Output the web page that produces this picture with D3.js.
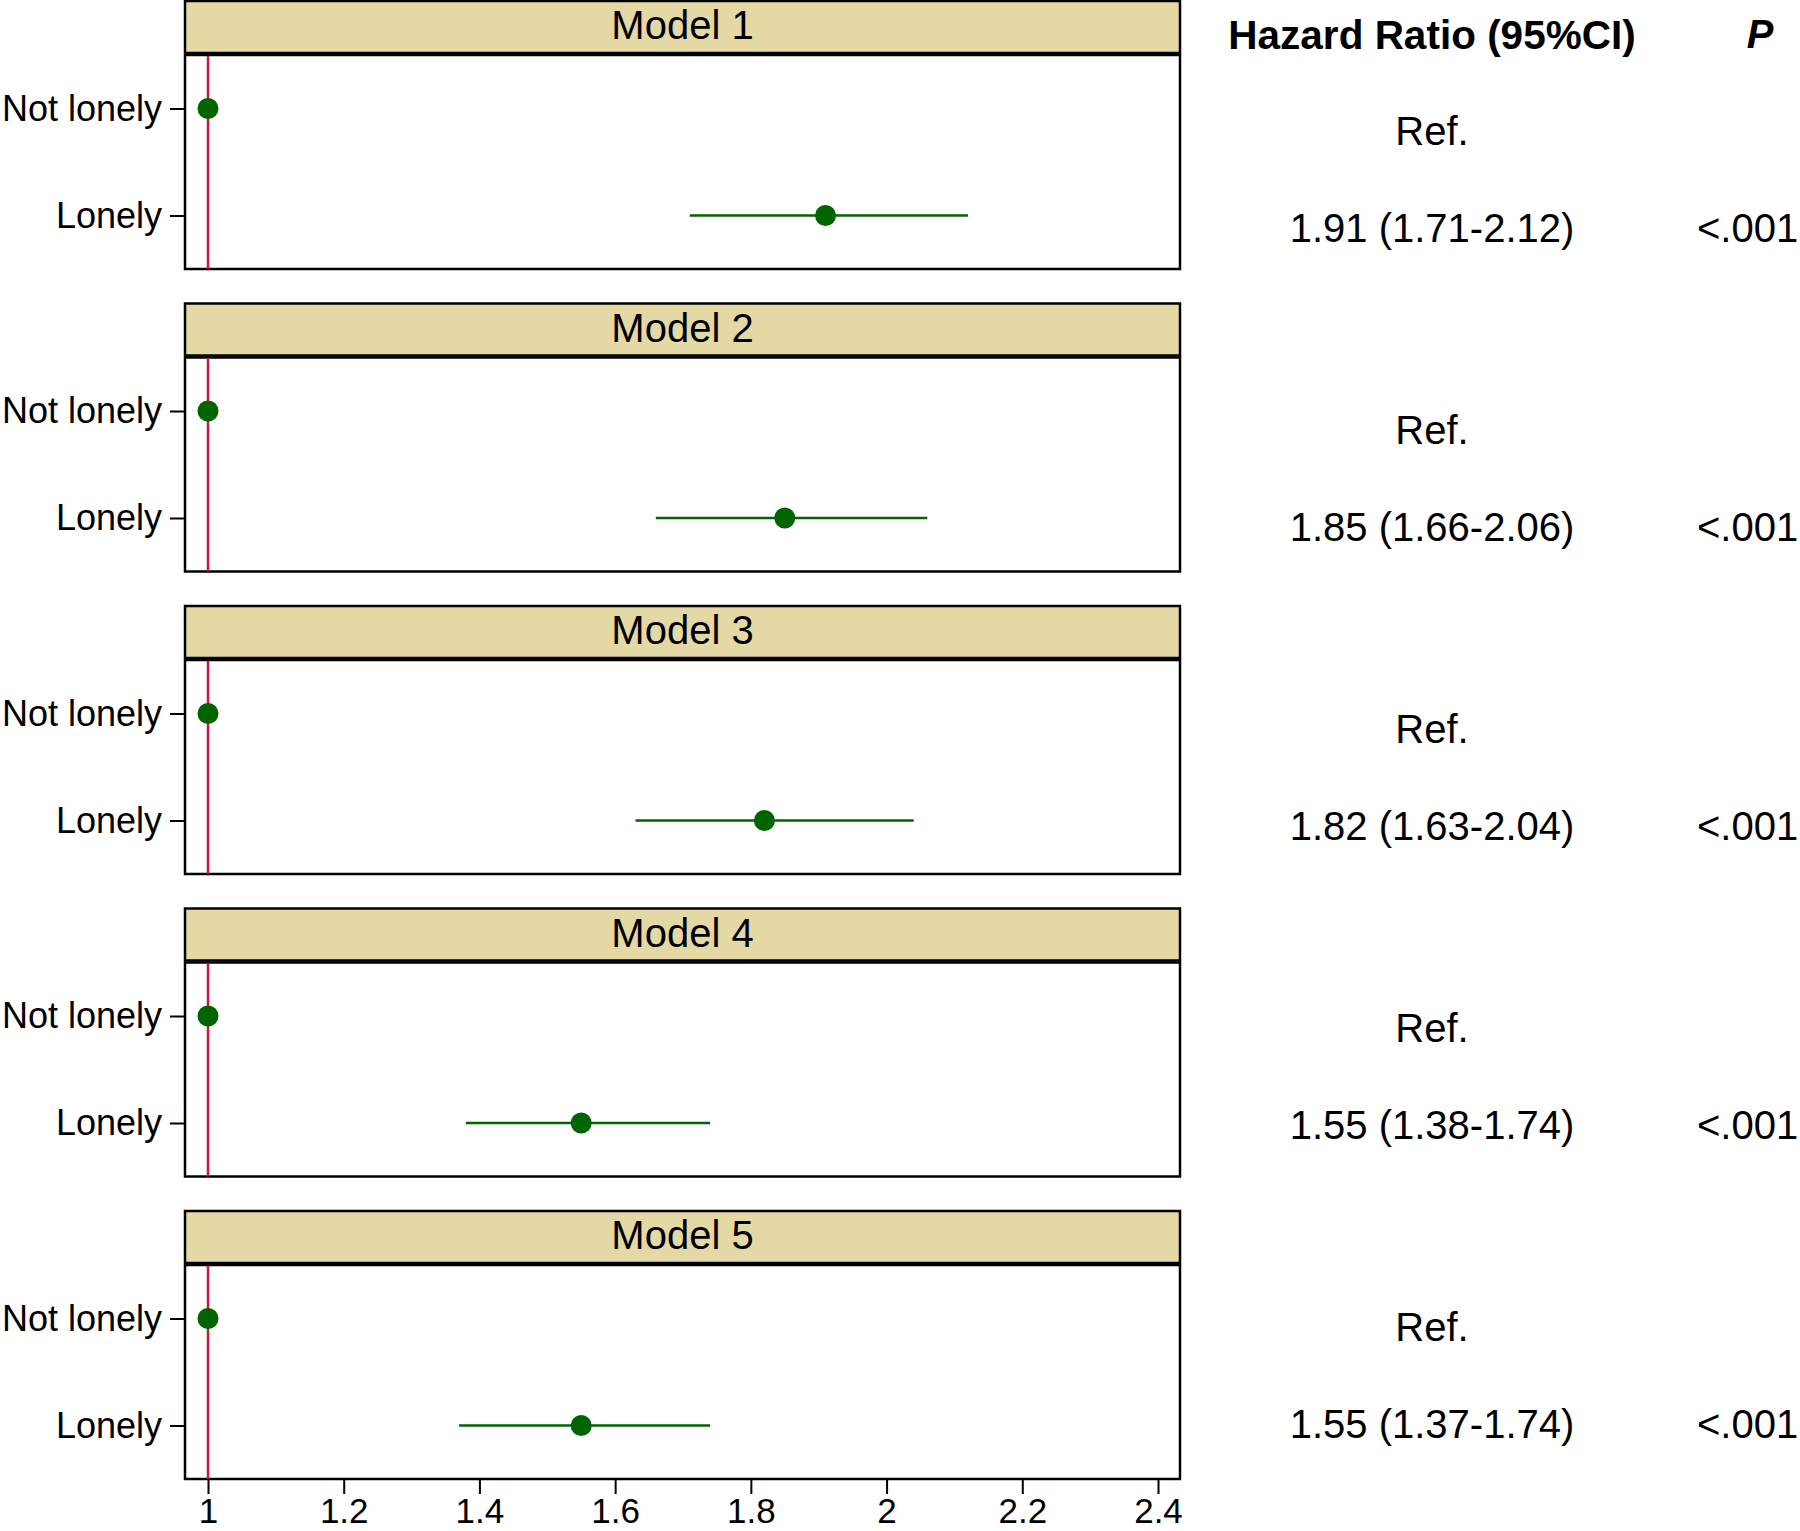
<!DOCTYPE html>
<html>
<head>
<meta charset="utf-8">
<script src="https://cdn.jsdelivr.net/npm/d3@7"></script>
<style>
  body { margin: 0; background: #fff; }
  svg { display: block; font-family: "Liberation Sans", Arial, Helvetica, sans-serif; }
  .axis path.domain { display: none; }
  .axis line { stroke: #000; stroke-width: 2; }
  .axis text { fill: #000; }
</style>
</head>
<body>
<svg width="1800" height="1531"></svg>
<script>
// data
var models = ["Model 1", "Model 2", "Model 3", "Model 4", "Model 5"];
var categories = ["Not lonely", "Lonely"];
var refValue = 1;
var hazard = [1.91, 1.85, 1.82, 1.55, 1.55];
var lower = [1.71, 1.66, 1.63, 1.38, 1.37];
var upper = [2.12, 2.06, 2.04, 1.74, 1.74];
var hrText = ["1.91 (1.71-2.12)", "1.85 (1.66-2.06)", "1.82 (1.63-2.04)", "1.55 (1.38-1.74)", "1.55 (1.37-1.74)"];
var pText = ["<.001", "<.001", "<.001", "<.001", "<.001"];
var xTicks = [1, 1.2, 1.4, 1.6, 1.8, 2, 2.2, 2.4];

var svg = d3.select("svg");
svg.append("rect").attr("width", 1800).attr("height", 1531).attr("fill", "#fff");

var panelLeft = 185, panelRight = 1180;
var stripH = 52, panelH = 214, period = 302.5;

var x = d3.scaleLinear().domain([1, 2.4]).range([208, 1158]);
var y = d3.scalePoint().domain(categories).range([0, panelH]).padding(0.5);

// rows of the text table on the right
var refRowY = d3.scaleLinear().domain([0, 4]).range([131, 1327]);
var hrRowY = d3.scaleLinear().domain([0, 4]).range([228, 1424]);

models.forEach(function (m, i) {
    var top = 1 + i * period;
    var g = svg.append("g").attr("transform", "translate(0," + top + ")");

    // strip
    g.append("rect")
        .attr("x", panelLeft).attr("y", 0)
        .attr("width", panelRight - panelLeft).attr("height", stripH)
        .attr("fill", "#e4d9a5").attr("stroke", "#000").attr("stroke-width", 2.5);
    g.append("text")
        .attr("x", (panelLeft + panelRight) / 2).attr("y", stripH / 2 - 2)
        .attr("dy", "0.36em")
        .attr("text-anchor", "middle")
        .attr("font-size", 40)
        .text(m);

    var p = g.append("g").attr("transform", "translate(0," + (stripH + 2) + ")");

    p.append("rect")
        .attr("x", panelLeft).attr("y", 0)
        .attr("width", panelRight - panelLeft).attr("height", panelH)
        .attr("fill", "#fff").attr("stroke", "#000").attr("stroke-width", 2.5);

    // reference line
    p.append("line")
        .attr("x1", x(refValue)).attr("x2", x(refValue))
        .attr("y1", 1).attr("y2", panelH)
        .attr("stroke", "#d2143c").attr("stroke-width", 2.5);

    // CI
    p.append("line")
        .attr("x1", x(lower[i])).attr("x2", x(upper[i]))
        .attr("y1", y("Lonely")).attr("y2", y("Lonely"))
        .attr("stroke", "#006400").attr("stroke-width", 2.5);

    p.selectAll("circle")
        .data([{c: "Not lonely", v: refValue}, {c: "Lonely", v: hazard[i]}])
        .enter().append("circle")
        .attr("cx", function (d) { return x(d.v); })
        .attr("cy", function (d) { return y(d.c); })
        .attr("r", 10.5)
        .attr("fill", "#006400");

    p.append("g")
        .attr("class", "axis")
        .attr("transform", "translate(" + panelLeft + ",0)")
        .call(d3.axisLeft(y).tickSize(15).tickPadding(8))
        .selectAll("text").attr("font-size", 36);

    if (i === models.length - 1) {
        p.append("g")
            .attr("class", "axis")
            .attr("transform", "translate(0," + panelH + ")")
            .call(d3.axisBottom(x).tickValues(xTicks).tickSize(15).tickPadding(4).tickFormat(d3.format("")))
            .selectAll("text").attr("font-size", 35);
    }

    // table text
    svg.append("text")
        .attr("x", 1432).attr("y", refRowY(i)).attr("dy", "0.36em")
        .attr("text-anchor", "middle").attr("font-size", 40)
        .text("Ref.");
    svg.append("text")
        .attr("x", 1432).attr("y", hrRowY(i)).attr("dy", "0.36em")
        .attr("text-anchor", "middle").attr("font-size", 40)
        .text(hrText[i]);
    svg.append("text")
        .attr("x", 1697).attr("y", hrRowY(i)).attr("dy", "0.36em")
        .attr("font-size", 40)
        .text(pText[i]);
});

// headers
svg.append("text")
    .attr("x", 1432).attr("y", 34).attr("dy", "0.36em")
    .attr("text-anchor", "middle").attr("font-size", 40.5).attr("font-weight", "bold")
    .text("Hazard Ratio (95%CI)");
svg.append("text")
    .attr("x", 1760).attr("y", 34).attr("dy", "0.36em")
    .attr("text-anchor", "middle").attr("font-size", 40).attr("font-weight", "bold")
    .attr("font-style", "italic")
    .text("P");
</script>
</body>
</html>
